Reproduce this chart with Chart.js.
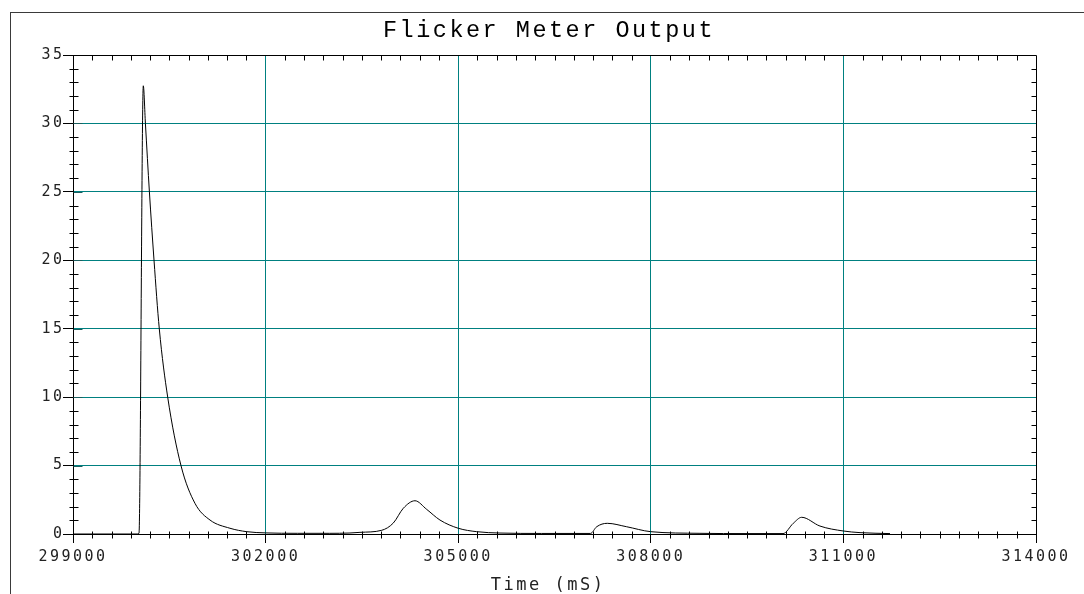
<!DOCTYPE html>
<html>
<head>
<meta charset="utf-8">
<script src="https://cdn.jsdelivr.net/npm/chart.js@4/dist/chart.umd.min.js"></script>
<style>
  html, body { margin: 0; padding: 0; background: #fff; }
  #wrap { width: 1084px; height: 594px; }
</style>
</head>
<body>
<div id="wrap"><canvas id="c" width="1084" height="594"></canvas></div>
<script>
// ---- data ----
const chartTitle = 'Flicker Meter Output';
const xTitle = 'Time (mS)';
const timeMs = [
  299000, 300000, 300028, 300095, 300128, 300190, 300262, 300344, 300475, 300682,
  300900, 301134, 301445, 301706, 302000, 302500, 303000, 303300, 303470, 303808,
  303989, 304145, 304327, 304509, 304716, 305001, 305288, 305651, 306300, 307060,
  307157, 307322, 307624, 307998, 308766, 309500, 310060, 310219, 310350, 310635,
  310998, 311259, 311726
];
const flicker = [
  0.0, 0.0, 0.05, 32.75, 30.0, 25.0, 20.0, 15.0, 10.0, 5.0,
  2.24, 1.02, 0.42, 0.17, 0.08, 0.05, 0.05, 0.07, 0.12, 0.27,
  0.8, 1.88, 2.43, 1.8, 1.02, 0.42, 0.17, 0.07, 0.04, 0.04,
  0.53, 0.78, 0.53, 0.17, 0.05, 0.03, 0.03, 0.78, 1.22, 0.58,
  0.22, 0.1, 0.03
];
const xTicks = [299000, 302000, 305000, 308000, 311000, 314000];
const yTicks = [0, 5, 10, 15, 20, 25, 30, 35];
const xMinorStep = 300;
const yMinorStep = 1;

const points = timeMs.map((t, i) => ({ x: t, y: flicker[i] }));

const TEAL = 'rgb(0,128,128)';
const CLEAR = 'rgba(0,0,0,0)';
const LETTER_SP = '2.5px';

const xGridColors = xTicks.map((v, i) => (i === 0 || i === xTicks.length - 1) ? CLEAR : TEAL);
const yGridColors = yTicks.map((v, i) => (i === 0 || i === yTicks.length - 1) ? CLEAR : TEAL);

const setSpacing = {
  id: 'setSpacing',
  beforeLayout(chart) { chart.ctx.letterSpacing = LETTER_SP; },
  beforeDraw(chart) {
    const ctx = chart.ctx;
    ctx.letterSpacing = LETTER_SP;
    ctx.save();
    ctx.fillStyle = '#fff';
    ctx.fillRect(0, 0, chart.width, chart.height);
    ctx.strokeStyle = '#3a3a3a';
    ctx.lineWidth = 1;
    ctx.strokeRect(10.5, 12.5, 1200, 1000);
    ctx.restore();
  }
};

const frameAndMinor = {
  id: 'frameAndMinor',
  afterDraw(chart) {
    const ctx = chart.ctx;
    const xs = chart.scales.x, ys = chart.scales.y;
    const a = chart.chartArea;
    const L = Math.round(a.left) + 0.5, R = Math.round(a.right) + 0.5;
    const T = Math.round(a.top) + 0.5, B = Math.round(a.bottom) + 0.5;
    ctx.save();
    ctx.lineWidth = 1;
    ctx.strokeStyle = '#000';
    ctx.beginPath();
    ctx.moveTo(L, T); ctx.lineTo(R, T); ctx.lineTo(R, B + 8);
    for (let v = xs.min + xMinorStep; v < xs.max; v += xMinorStep) {
      if ((v - xs.min) % 3000 === 0) continue;
      const px = Math.round(xs.getPixelForValue(v)) + 0.5;
      ctx.moveTo(px, B - 3); ctx.lineTo(px, B + 4);
      ctx.moveTo(px, T); ctx.lineTo(px, T + 5);
    }
    for (let v = ys.min + yMinorStep; v < ys.max; v += yMinorStep) {
      if (v % 5 === 0) continue;
      const py = Math.round(ys.getPixelForValue(v)) + 0.5;
      ctx.moveTo(L - 4, py); ctx.lineTo(L + 5, py);
      ctx.moveTo(R - 5, py); ctx.lineTo(R, py);
    }
    ctx.stroke();
    ctx.strokeStyle = '#1b5e5e';
    ctx.beginPath();
    for (const v of yTicks) {
      if (v === ys.min || v === ys.max) continue;
      const py = Math.round(ys.getPixelForValue(v)) + 0.5;
      ctx.moveTo(L, py); ctx.lineTo(L + 9, py);
    }
    ctx.stroke();
    ctx.restore();
  }
};

new Chart(document.getElementById('c'), {
  type: 'line',
  data: {
    datasets: [{
      data: points,
      borderColor: '#000',
      borderWidth: 1,
      pointRadius: 0,
      fill: false,
      cubicInterpolationMode: 'monotone'
    }]
  },
  options: {
    responsive: false,
    animation: false,
    devicePixelRatio: 1,
    layout: { padding: { top: 0, right: 0, bottom: 0, left: 14 } },
    plugins: {
      legend: { display: false },
      tooltip: { enabled: false },
      title: {
        display: true,
        text: chartTitle,
        color: '#000',
        font: { family: 'Liberation Mono', size: 23.5, weight: 'normal', lineHeight: 1 },
        padding: { top: 19, bottom: 12.5 }
      }
    },
    scales: {
      x: {
        type: 'linear',
        min: xTicks[0],
        max: xTicks[xTicks.length - 1],
        afterBuildTicks: s => { s.ticks = xTicks.map(v => ({ value: v })); },
        afterFit: s => { s.height = 60; },
        ticks: {
          autoSkip: false, maxRotation: 0, minRotation: 0,
          color: '#222',
          padding: 5,
          font: { family: 'DejaVu Sans Mono', size: 15 },
          callback: v => String(v)
        },
        grid: {
          color: xGridColors,
          tickColor: '#000',
          tickLength: 9,
          lineWidth: 1
        },
        border: { color: '#000', width: 1 },
        title: {
          display: true,
          text: xTitle + ' ',
          color: '#222',
          font: { family: 'DejaVu Sans Mono', size: 17, lineHeight: 1 },
          padding: { top: 0, bottom: 0 }
        }
      },
      y: {
        min: yTicks[0],
        max: yTicks[yTicks.length - 1],
        afterBuildTicks: s => { s.ticks = yTicks.map(v => ({ value: v })); },
        afterFit: s => { s.width = 59; },
        ticks: {
          color: '#222',
          padding: -1.5,
          font: { family: 'DejaVu Sans Mono', size: 15 },
          callback: v => String(v)
        },
        grid: {
          color: yGridColors,
          tickColor: '#000',
          tickLength: 10,
          lineWidth: 1
        },
        border: { color: '#000', width: 1 }
      },
      yR: {
        position: 'right',
        display: true,
        min: 0,
        max: 35,
        afterFit: s => { s.width = 48; },
        ticks: { display: false },
        grid: { display: false, drawTicks: false },
        border: { display: false }
      }
    }
  },
  plugins: [setSpacing, frameAndMinor]
});
</script>
</body>
</html>
